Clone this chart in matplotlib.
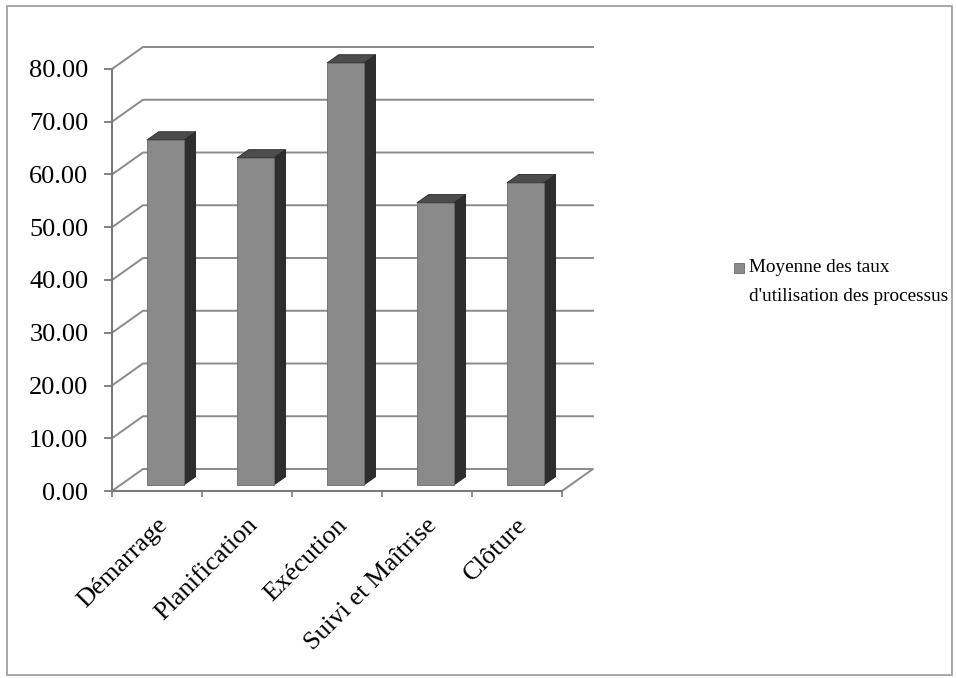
import matplotlib.pyplot as plt
import matplotlib.transforms as mtransforms
from matplotlib.patches import Polygon, Rectangle

plt.rcParams['font.family'] = ['Liberation Serif', 'DejaVu Serif']

categories = ["Démarrage", "Planification", "Exécution", "Suivi et Maîtrise", "Clôture"]
values = [65.4, 62.0, 80.0, 53.5, 57.3]
yticks = [0, 10, 20, 30, 40, 50, 60, 70, 80]
legend_lines = ["Moyenne des taux", "d'utilisation des processus"]

# oblique "3D" look: depth shifts points right and up (data units)
DX, DY = 0.344, 4.17
D0, D1 = 0.27, 0.65      # front / back depth of the columns
BAR_W = 0.41

FRONT = "#8a8a8a"
SIDE = "#2e2e2e"
TOP = "#4c4c4c"
GRID = "#8a8a8a"


def proj(x, v, d):
    return (x + d * DX, v + d * DY)


fig = plt.figure(figsize=(9.56, 6.78), dpi=100)
W, H = 956, 678
ax = fig.add_axes([100 / W, (H - 510) / H, 520 / W, 480 / H])
px_x, px_y = 90.0, 5.275
ax.set_xlim((100 - 112) / px_x, (620 - 112) / px_x)
ax.set_ylim((491 - 510) / px_y, (491 - 30) / px_y)

n = len(categories)

# back wall gridlines, with the diagonal link to the front axis
for v in yticks[1:]:
    pts = [proj(0, v, 0), proj(0, v, 1), proj(n, v, 1)]
    ax.plot(*zip(*pts), color=GRID, lw=1.4, zorder=1)

# floor outline
floor = [proj(0, 0, 0), proj(0, 0, 1), proj(n, 0, 1), proj(n, 0, 0)]
ax.plot(*zip(*floor), color=GRID, lw=1.4, zorder=1)

# columns
for i, v in enumerate(values):
    c = i + 0.5
    x0, x1 = c - BAR_W / 2, c + BAR_W / 2
    front = [proj(x0, 0, D0), proj(x1, 0, D0), proj(x1, v, D0), proj(x0, v, D0)]
    side = [proj(x1, 0, D0), proj(x1, 0, D1), proj(x1, v, D1), proj(x1, v, D0)]
    top = [proj(x0, v, D0), proj(x1, v, D0), proj(x1, v, D1), proj(x0, v, D1)]
    ax.add_patch(Polygon(side, closed=True, facecolor=SIDE, edgecolor="#1e1e1e", lw=0.6, zorder=3))
    ax.add_patch(Polygon(top, closed=True, facecolor=TOP, edgecolor="#2a2a2a", lw=0.6, zorder=3))
    ax.add_patch(Polygon(front, closed=True, facecolor=FRONT, edgecolor="#6a6a6a", lw=0.6, zorder=4))

# front axes
for s in ["top", "right"]:
    ax.spines[s].set_visible(False)
ax.spines["left"].set_position(("data", 0))
ax.spines["left"].set_bounds(0, 80)
ax.spines["bottom"].set_position(("data", 0))
ax.spines["bottom"].set_bounds(0, n)
for s in ["left", "bottom"]:
    ax.spines[s].set_color("#7a7a7a")
    ax.spines[s].set_linewidth(1.5)
    ax.spines[s].set_zorder(2)

ax.set_yticks(yticks)
ax.set_yticklabels([f"{t:.2f}" for t in yticks])
ax.tick_params(axis="y", direction="out", length=6, width=1.3, color="#7a7a7a",
               pad=11, labelsize=19)
ax.set_xticks(range(n + 1))
ax.set_xticklabels([])
ax.tick_params(axis="x", direction="out", length=4, width=1.2, color="#7a7a7a")

label_tr = mtransforms.offset_copy(ax.transData, fig=fig, x=5, y=-22, units="points")
for i, name in enumerate(categories):
    ax.text(i + 0.5, 0, name, transform=label_tr, rotation=45, ha="right",
            va="center", rotation_mode="anchor", fontsize=19)

# legend: swatch plus two text lines
fig.patches.append(Rectangle((734 / W, (H - 273) / H), 10 / W, 10 / H,
                             transform=fig.transFigure, facecolor=FRONT,
                             edgecolor="#6a6a6a", lw=0.6))
for k, line in enumerate(legend_lines):
    fig.text(749 / W, (H - 268 - 28 * k) / H, line, ha="left", va="center",
             fontsize=13.8)

# outer chart border
fig.patches.append(Rectangle((7 / W, 3 / H), 945 / W, 669 / H,
                             transform=fig.transFigure, fill=False,
                             edgecolor="#9a9a9a", lw=1.2))

fig.savefig("out.png", dpi=100)
